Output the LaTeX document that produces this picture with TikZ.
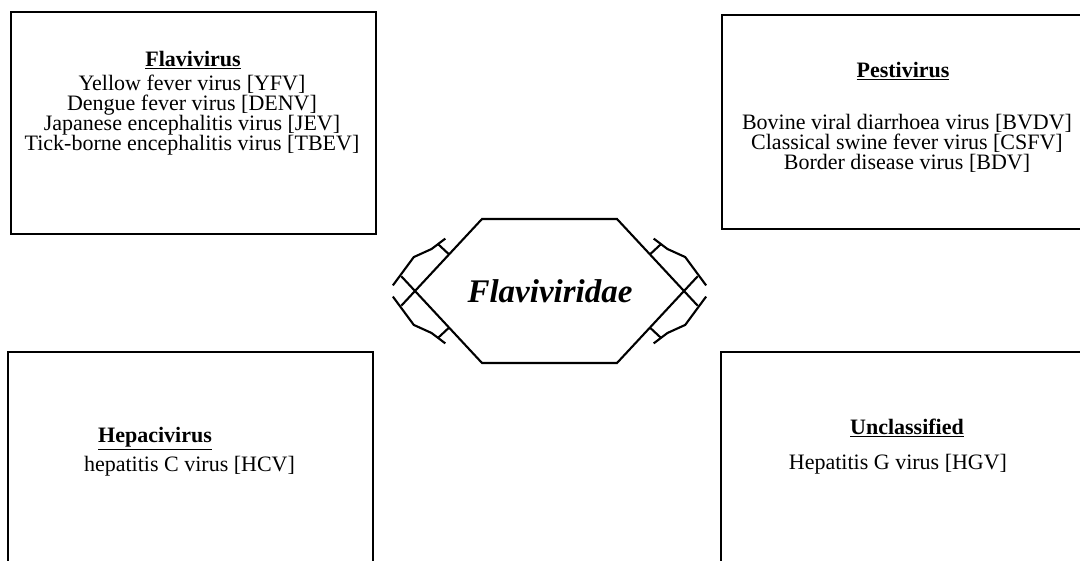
\documentclass[tikz,border=0pt]{standalone}
\usepackage{fontspec}
\setmainfont{Liberation Serif}
\usetikzlibrary{calc}
\begin{document}
\begin{tikzpicture}[x=1pt,y=1pt,
  boxframe/.style={draw, line width=1.4pt, inner sep=0pt},
  grouptitle/.style={font=\fontsize{22}{22}\selectfont\bfseries, anchor=base, inner sep=0pt},
  bodyline/.style={font=\fontsize{22}{20}\selectfont, anchor=base, inner sep=0pt},
  hexline/.style={line width=2.1pt, line join=miter, line cap=butt},
  clamp/.pic={
    \draw[hexline] (50,0) -- (50,15);
    \draw[hexline, line join=round] (59,13.5) -- (42,16.5) -- (24,24) -- (-11,20);
  }
]
\useasboundingbox (0,0) rectangle (1080,561);
\clip (0,0) rectangle (1080,561);

% boxes
\node[boxframe, minimum width=365pt, minimum height=222pt] (flavi) at (193.5,438) {};
\node[boxframe, minimum width=378pt, minimum height=214pt] (pesti) at (911,439) {};
\node[boxframe, minimum width=365pt, minimum height=229pt] (hepaci) at (190.5,94.5) {};
\node[boxframe, minimum width=379pt, minimum height=229pt] (uncl) at (910.5,94.5) {};

% Flavivirus
\node[grouptitle] (flaviT) at (193,494) {\underline{Flavivirus}};
\node[bodyline] (yfv) at (192,470) {Yellow fever virus [YFV]};
\node[bodyline] (denv) at (192,450) {Dengue fever virus [DENV]};
\node[bodyline] (jev) at (192,430) {Japanese encephalitis virus [JEV]};
\node[bodyline] (tbev) at (192,410) {Tick-borne encephalitis virus [TBEV]};

% Pestivirus
\node[grouptitle] (pestiT) at (903,483) {\underline{Pestivirus}};
\node[bodyline] (bvdv) at (907,431) {Bovine viral diarrhoea virus [BVDV]};
\node[bodyline] (csfv) at (907,411) {Classical swine fever virus [CSFV]};
\node[bodyline] (bdv) at (907,391) {Border disease virus [BDV]};

% Hepacivirus
\node[grouptitle, anchor=base west] (hepaciT) at (98,118) {\underline{Hepacivirus}};
\node[bodyline] (hcv) at (189.5,89) {hepatitis C virus [HCV]};

% Unclassified
\node[grouptitle] (unclT) at (907,126) {\underline{Unclassified}};
\node[bodyline] (hgv) at (898,91) {Hepatitis G virus [HGV]};

% hexagon
\coordinate (hL) at (415,270);
\coordinate (hTL) at (482,342);
\coordinate (hTR) at (617,342);
\coordinate (hR) at (684,270);
\coordinate (hBR) at (617,198);
\coordinate (hBL) at (482,198);
\draw[hexline] (hL) -- (hTL) -- (hTR) -- (hR) -- (hBR) -- (hBL) -- cycle;
\draw[hexline] (hL) -- ($(hL)!-20pt!(hBL)$);
\draw[hexline] (hL) -- ($(hL)!-20pt!(hTL)$);
\draw[hexline] (hR) -- ($(hR)!-20pt!(hBR)$);
\draw[hexline] (hR) -- ($(hR)!-20pt!(hTR)$);
\pic[rotate=47.06] at (hL) {clamp};
\pic[rotate=-47.06, yscale=-1] at (hL) {clamp};
\pic[rotate=132.94, yscale=-1] at (hR) {clamp};
\pic[rotate=-132.94] at (hR) {clamp};
\node[font=\fontsize{33}{33}\selectfont\bfseries\itshape, anchor=base, inner sep=0pt] (fam) at (550,258) {Flaviviridae};
\end{tikzpicture}
\end{document}
